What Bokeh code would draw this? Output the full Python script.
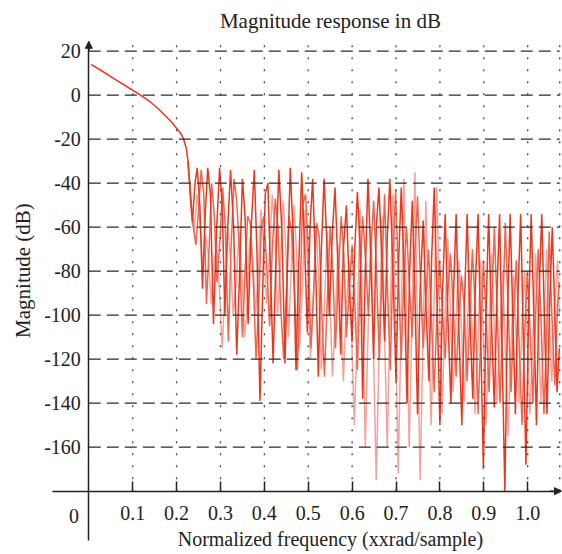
from bokeh.plotting import figure
from bokeh.models import Range1d, LinearAxis, FixedTicker, Label, Arrow, NormalHead, PrintfTickFormatter
from bokeh.embed import file_html
from bokeh.resources import INLINE

# ---------------- data ----------------
X_TICKS = [0.1, 0.2, 0.3, 0.4, 0.5, 0.6, 0.7, 0.8, 0.9, 1.0]
Y_TICKS = [-160, -140, -120, -100, -80, -60, -40, -20, 0, 20]

# series A (dark red) - includes passband
a_x = [0.005, 0.03, 0.06, 0.09, 0.118, 0.14, 0.16, 0.18, 0.19, 0.20, 0.21, 0.216, 0.222, 0.226, 0.229, 0.232,
       0.236, 0.242, 0.247, 0.253, 0.259, 0.265, 0.271, 0.277, 0.284, 0.291, 0.298, 0.304, 0.310, 0.316, 0.323,
       0.330, 0.337, 0.343, 0.350, 0.356, 0.363, 0.370, 0.377, 0.383, 0.390, 0.396, 0.402, 0.408, 0.414, 0.420,
       0.427, 0.433, 0.440, 0.447, 0.453, 0.459, 0.466, 0.472, 0.478, 0.485, 0.492, 0.498, 0.504, 0.510, 0.517,
       0.523, 0.529, 0.536, 0.542, 0.548, 0.555, 0.561, 0.568, 0.574, 0.580, 0.587, 0.593, 0.600, 0.606, 0.612,
       0.618, 0.624, 0.630, 0.636, 0.642, 0.649, 0.655, 0.661, 0.668, 0.674, 0.680, 0.686, 0.693, 0.700, 0.706,
       0.712, 0.718, 0.725, 0.731, 0.737, 0.743, 0.749, 0.755, 0.762, 0.768, 0.775, 0.781, 0.787, 0.793, 0.800,
       0.806, 0.812, 0.818, 0.825, 0.831, 0.837, 0.843, 0.850, 0.856, 0.862, 0.868, 0.875, 0.881, 0.887, 0.893,
       0.899, 0.905, 0.911, 0.917, 0.924, 0.930, 0.936, 0.942, 0.948, 0.954, 0.960, 0.966, 0.972, 0.978, 0.984,
       0.990, 0.996, 1.002, 1.008, 1.014, 1.020, 1.026, 1.032, 1.038, 1.044, 1.050, 1.056, 1.062, 1.067, 1.072]
a_db = [14, 11, 7.2, 3.5, 0, -3, -6.5, -10.5, -12.5, -15, -17.5, -20, -24, -30, -38, -48,
        -58, -40, -33, -50, -88, -55, -33, -45, -104, -62, -33, -50, -100, -62, -34,
        -60, -118, -85, -38, -55, -104, -60, -34, -70, -139, -90, -45, -40, -80, -122,
        -70, -34, -62, -122, -75, -33, -65, -125, -80, -35, -70, -108, -60, -38, -80,
        -128, -75, -38, -65, -100, -62, -42, -80, -118, -70, -50, -85, -112, -70, -44,
        -68, -138, -80, -38, -70, -120, -60, -42, -75, -112, -65, -38, -80, -130, -75,
        -42, -78, -140, -80, -48, -90, -145, -88, -57, -95, -130, -75, -42, -90, -150,
        -90, -54, -100, -140, -90, -54, -105, -150, -95, -54, -100, -138, -85, -54, -110,
        -170, -100, -54, -100, -142, -90, -54, -120, -180, -100, -54, -100, -145, -90, -54,
        -110, -168, -100, -54, -100, -150, -90, -54, -100, -145, -95, -60, -100, -135, -115]

# series B (medium red)
b_x = [0.226, 0.232, 0.238, 0.244, 0.250, 0.256, 0.262, 0.268, 0.274, 0.280, 0.286, 0.292, 0.299, 0.305, 0.311,
       0.318, 0.324, 0.331, 0.337, 0.343, 0.350, 0.356, 0.362, 0.368, 0.375, 0.381, 0.387, 0.393, 0.399, 0.406,
       0.412, 0.418, 0.425, 0.431, 0.437, 0.444, 0.450, 0.456, 0.462, 0.469, 0.475, 0.481, 0.487, 0.494, 0.500,
       0.506, 0.512, 0.519, 0.525, 0.531, 0.537, 0.543, 0.550, 0.556, 0.562, 0.568, 0.575, 0.581, 0.587, 0.593,
       0.600, 0.606, 0.612, 0.618, 0.624, 0.631, 0.637, 0.643, 0.649, 0.655, 0.662, 0.668, 0.674, 0.680, 0.687,
       0.693, 0.699, 0.705, 0.712, 0.718, 0.724, 0.730, 0.737, 0.743, 0.749, 0.755, 0.762, 0.768, 0.774, 0.780,
       0.787, 0.793, 0.799, 0.805, 0.812, 0.818, 0.824, 0.830, 0.837, 0.843, 0.849, 0.855, 0.862, 0.868, 0.874,
       0.880, 0.887, 0.893, 0.899, 0.905, 0.912, 0.918, 0.924, 0.930, 0.937, 0.943, 0.949, 0.955, 0.962, 0.968,
       0.974, 0.980, 0.987, 0.993, 0.999, 1.005, 1.012, 1.018, 1.024, 1.030, 1.037, 1.043, 1.049, 1.055, 1.062,
       1.068, 1.072]
b_db = [-30, -45, -60, -68, -52, -34, -45, -95, -70, -40, -55, -85, -65, -42, -60,
        -112, -70, -38, -48, -70, -110, -80, -55, -58, -85, -120, -95, -60, -55, -80,
        -105, -70, -47, -60, -95, -120, -90, -55, -62, -90, -125, -95, -50, -45, -70,
        -115, -90, -58, -64, -100, -128, -95, -60, -80, -115, -85, -55, -72, -110, -90,
        -68, -95, -125, -85, -55, -76, -100, -70, -48, -78, -120, -80, -45, -85, -125,
        -75, -43, -80, -120, -82, -60, -85, -110, -72, -46, -80, -115, -92, -70, -98,
        -135, -100, -75, -95, -120, -90, -72, -95, -128, -100, -82, -95, -130, -100, -70,
        -95, -145, -110, -75, -100, -135, -98, -60, -95, -140, -100, -58, -95, -135, -100,
        -75, -110, -150, -110, -80, -105, -140, -100, -70, -100, -145, -110, -62, -100, -132,
        -95, -85]

# series C (light red)
c_x = [0.226, 0.233, 0.240, 0.247, 0.254, 0.260, 0.266, 0.272, 0.279, 0.285, 0.291, 0.298, 0.304, 0.310, 0.317,
       0.323, 0.329, 0.336, 0.342, 0.348, 0.355, 0.361, 0.367, 0.374, 0.380, 0.386, 0.392, 0.399, 0.405, 0.411,
       0.418, 0.424, 0.430, 0.436, 0.443, 0.449, 0.455, 0.461, 0.468, 0.474, 0.480, 0.487, 0.493, 0.499, 0.505,
       0.512, 0.518, 0.524, 0.530, 0.537, 0.543, 0.549, 0.555, 0.562, 0.568, 0.574, 0.580, 0.586, 0.593, 0.599,
       0.605, 0.611, 0.618, 0.624, 0.630, 0.636, 0.643, 0.649, 0.655, 0.661, 0.668, 0.674, 0.680, 0.686, 0.693,
       0.699, 0.705, 0.711, 0.718, 0.724, 0.730, 0.736, 0.743, 0.749, 0.755, 0.761, 0.768, 0.774, 0.780, 0.786,
       0.793, 0.799, 0.805, 0.811, 0.818, 0.824, 0.830, 0.837, 0.843, 0.849, 0.855, 0.862, 0.868, 0.874, 0.880,
       0.887, 0.893, 0.899, 0.905, 0.912, 0.918, 0.924, 0.930, 0.937, 0.943, 0.949, 0.955, 0.962, 0.968, 0.974,
       0.980, 0.987, 0.993, 0.999, 1.005, 1.012, 1.018, 1.024, 1.030, 1.037, 1.043, 1.049, 1.055, 1.062, 1.068,
       1.072]
c_db = [-30, -50, -62, -45, -60, -80, -64, -72, -95, -75, -70, -90, -115, -90, -60,
        -75, -100, -85, -62, -78, -110, -95, -65, -75, -100, -80, -52, -70, -95, -75,
        -45, -62, -100, -78, -48, -70, -110, -80, -50, -75, -115, -85, -52, -80, -120,
        -92, -60, -85, -125, -95, -62, -90, -128, -100, -68, -95, -130, -100, -75, -110,
        -150, -110, -52, -100, -160, -110, -60, -120, -175, -120, -55, -110, -160, -105, -45,
        -105, -172, -110, -38, -100, -160, -105, -35, -110, -175, -115, -48, -100, -150, -100,
        -42, -95, -145, -105, -65, -100, -135, -100, -75, -105, -140, -108, -80, -110, -145,
        -110, -75, -110, -150, -108, -72, -105, -140, -108, -80, -115, -155, -115, -82, -112,
        -140, -105, -80, -110, -145, -110, -72, -105, -140, -108, -70, -100, -130, -95, -75,
        -100]

# ---------------- layout constants ----------------
X_LO, X_HI = -0.2012, 1.0793
Y_LO, Y_HI = -208.8, 43.05
X_END = 1.073
Y_BOTTOM = -180
Y_TOP = 23.5
FONT = "Liberation Serif"
TXT = "#222222"

p = figure(width=562, height=554, output_backend="svg", toolbar_location=None,
           x_range=Range1d(X_LO, X_HI), y_range=Range1d(Y_LO, Y_HI),
           x_axis_type=None, y_axis_type=None, min_border=0)
p.outline_line_color = None
p.background_fill_color = "white"
p.border_fill_color = "white"

# curves
p.line(c_x, c_db, line_color="#f4a39b", line_width=1.5)
p.line(b_x, b_db, line_color="#ee6550", line_width=1.5)
p.line(a_x, a_db, line_color="#e8381e", line_width=1.5)

# grid lines (on top, as in the reference)
gy = [g for g in Y_TICKS]
p.segment(x0=[0] * len(gy), y0=gy, x1=[X_END] * len(gy), y1=gy,
          line_color="#2a2a2a", line_width=1.3, line_dash="12 6")
gx = X_TICKS + [X_END]
p.segment(x0=gx, y0=[Y_BOTTOM] * len(gx), x1=gx, y1=[Y_TOP] * len(gx),
          line_color="#444444", line_width=1.3, line_dash="2 10")

# axes crossing at the origin
xax = LinearAxis(fixed_location=Y_BOTTOM, bounds=(-0.083, X_END), ticker=FixedTicker(ticks=X_TICKS),
                 formatter=PrintfTickFormatter(format="%.1f"))
xax.axis_line_color = TXT
xax.axis_line_width = 1.5
xax.major_tick_in = 10
xax.major_tick_out = 0
xax.major_tick_line_width = 1.5
xax.major_tick_line_color = TXT
xax.minor_tick_line_color = None
xax.major_label_text_font = FONT
xax.major_label_text_font_size = "20px"
xax.major_label_text_color = TXT
xax.major_label_standoff = 15
p.add_layout(xax, "below")

yax = LinearAxis(fixed_location=0, bounds=(-202.4, Y_TOP), ticker=FixedTicker(ticks=Y_TICKS),
                 formatter=PrintfTickFormatter(format="%d"))
yax.axis_line_color = TXT
yax.axis_line_width = 1.5
yax.major_tick_in = 0
yax.major_tick_out = 0
yax.minor_tick_line_color = None
yax.major_label_text_font = FONT
yax.major_label_text_font_size = "20px"
yax.major_label_text_color = TXT
yax.major_label_standoff = 8
p.add_layout(yax, "left")

p.add_layout(Arrow(end=NormalHead(size=7, fill_color=TXT, line_color=TXT), x_start=0, y_start=20,
                   x_end=0, y_end=Y_TOP + 1, line_color=TXT, line_width=1.5))
p.add_layout(Arrow(end=NormalHead(size=7, fill_color=TXT, line_color=TXT), x_start=1.05, y_start=Y_BOTTOM,
                   x_end=X_END + 0.004, y_end=Y_BOTTOM, line_color=TXT, line_width=1.5))

# texts
p.add_layout(Label(x=-0.034, y=-191.5, text="0", text_font=FONT, text_font_size="20px",
                   text_color=TXT, text_align="center", text_baseline="middle"))
p.add_layout(Label(x=0.5505, y=33.95, text="Magnitude response in dB", text_font=FONT,
                   text_font_size="21px", text_color=TXT, text_align="center", text_baseline="middle"))
p.add_layout(Label(x=0.5505, y=-201.9, text="Normalized frequency (xxrad/sample)", text_font=FONT,
                   text_font_size="20px", text_color=TXT, text_align="center", text_baseline="middle"))
p.add_layout(Label(x=-0.151, y=-79.7, text="Magnitude (dB)", text_font=FONT, angle=1.5708,
                   text_font_size="21px", text_color=TXT, text_align="center", text_baseline="middle"))

open("out.html", "w").write(file_html(p, INLINE))
